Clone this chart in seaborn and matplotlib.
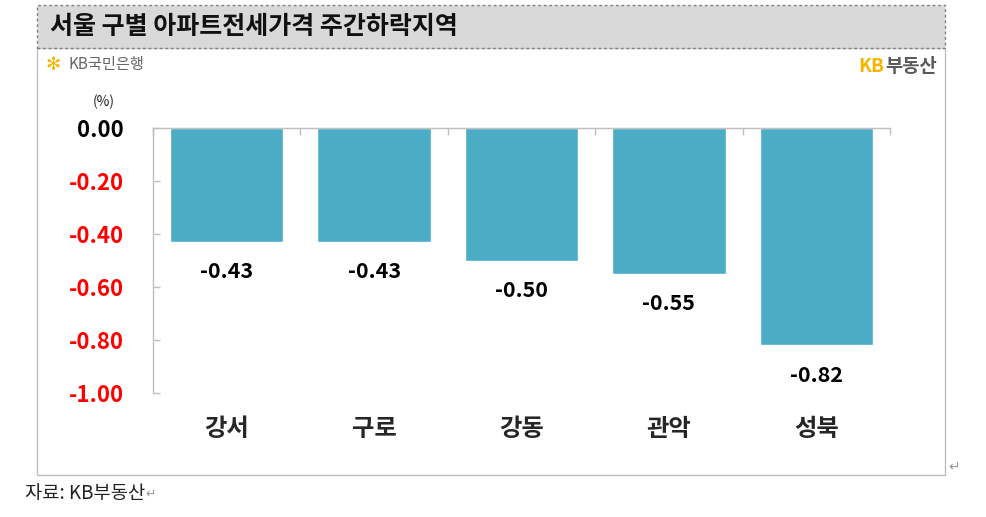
import matplotlib
matplotlib.use('Agg')
import matplotlib.pyplot as plt
from matplotlib.patches import Rectangle
import seaborn as sns
import pandas as pd

# chart data
districts = ['강서', '구로', '강동', '관악', '성북']
weekly_change = [-0.43, -0.43, -0.50, -0.55, -0.82]
y_ticks = [0.0, -0.2, -0.4, -0.6, -0.8, -1.0]
y_tick_labels = ['0.00', '-0.20', '-0.40', '-0.60', '-0.80', '-1.00']

title_text = '서울 구별 아파트전세가격 주간하락지역'
source_text = '자료: KB부동산'

sns.set_theme(style='white')
plt.rcParams['font.family'] = ['Noto Sans CJK KR', 'DejaVu Sans']

W, H = 987, 517
fig = plt.figure(figsize=(W / 100, H / 100), dpi=100)

def px(x, y):
    # pixel coords (from top-left) -> figure fraction
    return x / W, 1 - y / H

# outer frame + title banner
x0, y0 = px(37, 475)
x1, y1 = px(945, 48)
fig.patches.append(Rectangle((x0, y0), x1 - x0, y1 - y0, transform=fig.transFigure,
                             fill=False, edgecolor='#bfbfbf', lw=1))
bx0, by0 = px(37, 48)
bx1, by1 = px(945, 5)
fig.patches.append(Rectangle((bx0, by0), bx1 - bx0, by1 - by0, transform=fig.transFigure,
                             facecolor='#d9d9d9', edgecolor='#7f7f7f', lw=1, ls=(0, (2, 2))))
fig.text(*px(50, 27), title_text, fontsize=18, fontweight='bold', va='center', ha='left',
         color='#111111')

# logos
fig.text(*px(46, 65), '✻', fontsize=13, color='#f2b600', va='center', ha='left',
         family=['DejaVu Sans'])
fig.text(*px(69, 65), 'KB국민은행', fontsize=11, color='#666666', va='center', ha='left')
fig.text(*px(858, 67), 'KB', fontsize=13.5, fontweight='bold', color='#f5b400', va='center', ha='left')
fig.text(*px(885, 67), '부동산', fontsize=13.5, fontweight='bold', color='#595959', va='center', ha='left')

fig.text(*px(104, 102), '(%)', fontsize=10, color='#222222', va='center', ha='center')

# plot area
ax_l, ax_b = px(153, 393)
ax_r, ax_t = px(890, 128)
ax = fig.add_axes([ax_l, ax_b, ax_r - ax_l, ax_t - ax_b])

df = pd.DataFrame({'district': districts, 'change': weekly_change})
sns.barplot(data=df, x='district', y='change', color='#4bacc6', saturation=1,
            width=0.77, ax=ax)

ax.set_xlim(-0.5, len(districts) - 0.5)
ax.set_ylim(-1.0, 0.0)
ax.set_xlabel('')
ax.set_ylabel('')

for s in ['right', 'bottom']:
    ax.spines[s].set_visible(False)
for s in ['top', 'left']:
    ax.spines[s].set_color('#bfbfbf')
    ax.spines[s].set_linewidth(1)

ax.set_yticks(y_ticks)
ax.set_yticklabels(y_tick_labels, fontsize=16, fontweight='bold')
for lbl in ax.get_yticklabels():
    lbl.set_color('#000000' if lbl.get_text() == '0.00' else '#ff0000')
ax.tick_params(axis='y', direction='in', length=5, width=1, color='#bfbfbf', pad=21, left=True)

ax.set_xticks(range(len(districts)))
ax.set_xticklabels(districts, fontsize=17.5, fontweight='bold')
ax.set_xticks([i - 0.5 for i in range(len(districts) + 1)], minor=True)
ax.tick_params(axis='x', which='major', length=0, pad=17, bottom=True, top=False)
ax.tick_params(axis='x', which='minor', direction='in', length=5, width=1, color='#bfbfbf',
               top=True, bottom=False)

ax.bar_label(ax.containers[0], fmt='%.2f', padding=14, fontsize=15.5, fontweight='bold',
             color='#000000')

# footer
fig.text(*px(25, 493), source_text, fontsize=13.5, color='#222222', va='center', ha='left')
fig.text(*px(145, 494), '↵', fontsize=9, color='#999999', va='center', ha='left',
         family=['DejaVu Sans'])
fig.text(*px(948, 467), '↵', fontsize=10, color='#999999', va='center', ha='left',
         family=['DejaVu Sans'])

fig.savefig('out.png', dpi=100)
